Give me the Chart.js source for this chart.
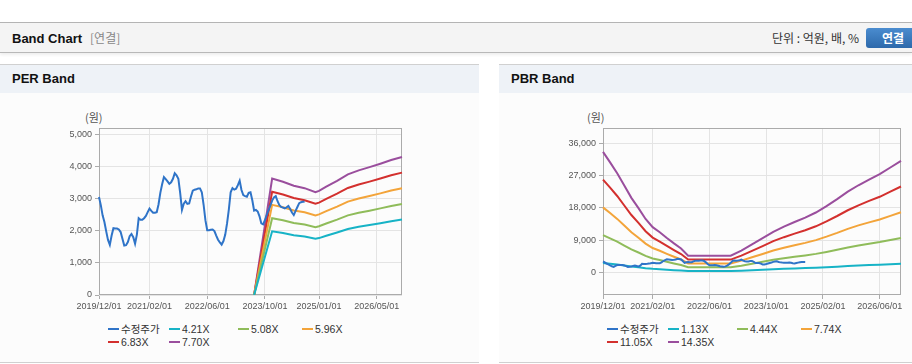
<!DOCTYPE html>
<html>
<head>
<meta charset="utf-8">
<script src="https://cdn.jsdelivr.net/npm/chart.js@4.4.1/dist/chart.umd.min.js"></script>
<style>
body { margin: 0; width: 912px; height: 364px; overflow: hidden; background: #fff; position: relative;
  font-family: "Liberation Sans", "Noto Sans CJK KR", sans-serif; }
.topbar { position: absolute; left: 0; top: 22px; width: 912px; height: 29px; background: #f4f4f4;
  border-top: 1px solid #b4b4b4; border-bottom: 1px solid #b8b8b8; box-shadow: 0 2px 3px rgba(0,0,0,.07); }
.topbar .title { position: absolute; left: 12px; top: 0; line-height: 29px; font-size: 13px; font-weight: bold; color: #111; }
.topbar .sub { font-weight: normal; color: #888; font-size: 12px; margin-left: 8px; font-family: "Noto Sans CJK KR", sans-serif; }
.topbar .unit { position: absolute; right: 53px; top: 0; line-height: 29px; font-size: 12px; color: #333; font-family: "Noto Sans CJK KR", sans-serif; }
.topbar .btn { position: absolute; left: 866px; top: 5px; width: 54px; height: 20px; border-radius: 3px;
  background: linear-gradient(#4a8ccf, #2d69ab); color: #fff; font-weight: bold; font-size: 12px;
  line-height: 20px; text-align: center; font-family: "Noto Sans CJK KR", sans-serif; }
.panel { position: absolute; top: 64px; height: 297px; background: #fcfcfc;
  border-top: 1px solid #d0d0d0; border-bottom: 1px solid #d0d0d0; }
.panel .ph { height: 28px; line-height: 28px; background: #eef2f7; padding-left: 12px;
  font-size: 13px; font-weight: bold; color: #111; }
.panel canvas { position: absolute; left: 0; top: 35px; }
.panel .unitlabel { position: absolute; top: 44px; font-size: 11px; color: #555; font-family: "Noto Sans CJK KR", sans-serif; }
.legend { position: absolute; left: 108px; top: 258px; display: grid; grid-template-columns: 61px 69px 64px 64px;
  font-size: 10.5px; line-height: 13px; color: #333; }
.legend span { white-space: nowrap; }
.legend i { display: inline-block; width: 11px; height: 2px; vertical-align: middle; margin-right: 2px; position: relative; top: -1px; }
</style>
</head>
<body>
<div class="topbar">
  <div class="title">Band Chart<span class="sub">[연결]</span></div>
  <div class="unit">단위 : 억원, 배, %</div>
  <div class="btn">연결</div>
</div>

<div class="panel" style="left:0;width:479px;">
  <div class="ph">PER Band</div>
  <div class="unitlabel" style="left:85px;">(원)</div>
  <canvas id="perChart" width="479" height="215"></canvas>
  <div class="legend" id="perLegend"></div>
</div>

<div class="panel" style="left:499px;width:413px;">
  <div class="ph">PBR Band</div>
  <div class="unitlabel" style="left:88px;">(원)</div>
  <canvas id="pbrChart" width="413" height="215"></canvas>
  <div class="legend" id="pbrLegend"></div>
</div>

<script>
// 반월 단위 날짜 (2019/12/01 ~ 2026/12/01)
const halfMonthLabels = [];
for (let k = 0; k <= 84; k++) {
    const y = 2019 + Math.floor((11 + k) / 12);
    const m = (11 + k) % 12 + 1;
    const ym = y + '/' + String(m).padStart(2, '0');
    halfMonthLabels.push(ym + '/01');
    if (k < 84) halfMonthLabels.push(ym + '/16');
}

const perTickLabels = ['2019/12/01', '2021/02/01', '2022/06/01', '2023/10/01', '2025/01/01', '2026/05/01'];
const pbrTickLabels = ['2019/12/01', '2021/02/01', '2022/06/01', '2023/10/01', '2025/02/01', '2026/06/01'];
const perYTicks = [0, 1000, 2000, 3000, 4000, 5000];
const pbrYTicks = [0, 9000, 18000, 27000, 36000];

// 수정주가 (반월 간격, 2019/12/01 부터)
const priceValues = [
    3050, 2800, 2480, 2270, 1980, 1710, 1560, 1850, 2080, 2070,
    2070, 2040, 1960, 1750, 1540, 1550, 1650, 1830, 1900, 1800,
    1600, 1880, 2390, 2340, 2340, 2390, 2460, 2580, 2690, 2620,
    2560, 2560, 2580, 2820, 3180, 3450, 3670, 3610, 3540, 3460,
    3510, 3620, 3790, 3730, 3620, 3180, 2650, 2840, 2920, 2840,
    2850, 3070, 3250, 3280, 3290, 3320, 3320, 3200, 2810, 2330,
    2020, 2020, 2030, 2040, 1990, 1850, 1720, 1640, 1570, 1680,
    1880, 2230, 2670, 3200, 3330, 3280, 3310, 3420, 3560, 3270,
    3110, 3080, 3060, 3180, 3200, 2950, 2630, 2650, 2600, 2450,
    2230, 2200, 2330, 2490, 2640, 2780, 2940, 3040, 3080, 2920,
    2800, 2740, 2720, 2700, 2730, 2770, 2680, 2570, 2490, 2620,
    2740, 2860, 2890, 2900, 2900
];

// PER 밴드
const perBandDates = ['2023/07/01', '2023/12/01', '2024/03/01', '2024/06/01', '2024/09/01', '2024/12/01', '2025/01/01',
    '2025/03/01', '2025/06/01', '2025/09/01', '2025/12/01', '2026/03/01', '2026/06/01', '2026/09/01', '2026/12/01'];
const per421 = [0, 1983, 1928, 1861, 1819, 1751, 1772, 1844, 1945, 2054, 2122, 2177, 2236, 2299, 2349];
const per508 = [0, 2393, 2327, 2245, 2195, 2113, 2139, 2225, 2347, 2479, 2560, 2626, 2697, 2774, 2835];
const per596 = [0, 2807, 2730, 2634, 2575, 2479, 2509, 2610, 2754, 2908, 3004, 3081, 3165, 3254, 3326];
const per683 = [0, 3217, 3128, 3019, 2951, 2841, 2875, 2992, 3155, 3333, 3442, 3531, 3627, 3729, 3811];
const per770 = [0, 3627, 3527, 3403, 3326, 3203, 3242, 3373, 3557, 3758, 3881, 3981, 4089, 4204, 4297];

// PBR 밴드
const pbrBandDates = ['2019/12/01', '2020/02/01', '2020/04/01', '2020/06/01', '2020/08/01', '2020/10/01', '2020/12/01',
    '2021/02/01', '2021/04/01', '2021/06/01', '2021/08/01', '2021/10/01', '2021/12/01', '2022/12/01', '2023/03/01',
    '2023/06/01', '2023/09/01', '2023/12/01', '2024/03/01', '2024/06/01', '2024/09/01', '2024/12/01', '2025/03/01',
    '2025/06/01', '2025/09/01', '2025/12/01', '2026/03/01', '2026/06/01', '2026/09/01', '2026/12/01'];
const pbr113 = [2650, 2418, 2181, 1910, 1639, 1413, 1175, 994, 881, 757, 638, 525, 366, 366, 480,
    616, 751, 893, 1006, 1107, 1203, 1316, 1458, 1610, 1774, 1915, 2040, 2158, 2305, 2452];
const pbr444 = [10412, 9502, 8569, 7504, 6438, 5550, 4618, 3907, 3463, 2975, 2509, 2065, 1439, 1439, 1887,
    2420, 2953, 3508, 3952, 4351, 4729, 5173, 5728, 6327, 6971, 7526, 8014, 8480, 9058, 9635];
const pbr774 = [18150, 16564, 14938, 13081, 11223, 9675, 8050, 6811, 6037, 5186, 4373, 3599, 2508, 2508, 3290,
    4218, 5147, 6115, 6889, 7585, 8243, 9017, 9985, 11030, 12152, 13119, 13971, 14783, 15790, 16796];
const pbr1105 = [25912, 23647, 21327, 18675, 16023, 13813, 11492, 9724, 8619, 7404, 6243, 5138, 3580, 3580, 4696,
    6022, 7348, 8730, 9835, 10829, 11768, 12873, 14255, 15746, 17349, 18730, 19945, 21106, 22542, 23979];
const pbr1435 = [33651, 30709, 27696, 24252, 20808, 17938, 14924, 12628, 11193, 9615, 8108, 6673, 4649, 4649, 6099,
    7821, 9543, 11337, 12772, 14063, 15283, 16718, 18512, 20449, 22530, 24323, 25902, 27409, 29274, 31140];

const colors = ['#2f74c8', '#17b3c6', '#8fbc5a', '#f3a43a', '#d3302e', '#9a4e9d'];

Chart.defaults.font.family = '"Liberation Sans", "Noto Sans CJK KR", sans-serif';

const toPoints = (dates, vals) => dates.map((d, i) => ({ x: d, y: vals[i] }));

const lineSet = (label, data, color) => ({
    label: label,
    data: data,
    borderColor: color,
    backgroundColor: color,
    borderWidth: 2,
    pointRadius: 0,
    tension: 0,
    spanGaps: true,
    fill: false
});

const frame = {
    id: 'frame',
    beforeDatasetsDraw(chart) {
        const a = chart.chartArea;
        const c = chart.ctx;
        c.save();
        c.strokeStyle = '#ababab';
        c.lineWidth = 1;
        c.strokeRect(Math.round(a.left) + 0.5, Math.round(a.top) + 0.5,
            Math.round(a.right - a.left) - 1, Math.round(a.bottom - a.top) - 1);
        c.restore();
    }
};

const makeChart = (id, datasets, tickLabels, yTicks, yMin, yMax, axisWidth, padRight) => {
    return new Chart(document.getElementById(id).getContext('2d'), {
        type: 'line',
        data: { labels: halfMonthLabels, datasets: datasets },
        options: {
            responsive: false,
            animation: false,
            devicePixelRatio: 1,
            layout: { padding: { top: 28, right: padRight, left: 0, bottom: 0 } },
            plugins: { legend: { display: false }, tooltip: { enabled: false } },
            scales: {
                x: {
                    offset: false,
                    grid: { color: '#e4e4e4', tickColor: '#ababab', tickLength: 4 },
                    border: { display: false },
                    ticks: { autoSkip: false, maxRotation: 0, font: { size: 9 }, color: '#555', padding: 2 },
                    afterBuildTicks: s => { s.ticks = s.ticks.filter(t => tickLabels.includes(halfMonthLabels[t.value])); },
                    afterFit: s => { s.height = 20; }
                },
                y: {
                    min: yMin,
                    max: yMax,
                    grid: { color: '#e4e4e4', tickColor: '#ababab', tickLength: 4 },
                    border: { display: false },
                    ticks: {
                        font: { size: 9 }, color: '#555', padding: 3,
                        callback: v => v.toLocaleString('en-US')
                    },
                    afterBuildTicks: s => { s.ticks = yTicks.map(v => ({ value: v })); },
                    afterFit: s => { s.width = axisWidth; }
                }
            }
        },
        plugins: [frame]
    });
};

const perChart = makeChart('perChart', [
    lineSet('수정주가', priceValues, colors[0]),
    lineSet('4.21X', toPoints(perBandDates, per421), colors[1]),
    lineSet('5.08X', toPoints(perBandDates, per508), colors[2]),
    lineSet('5.96X', toPoints(perBandDates, per596), colors[3]),
    lineSet('6.83X', toPoints(perBandDates, per683), colors[4]),
    lineSet('7.70X', toPoints(perBandDates, per770), colors[5])
], perTickLabels, perYTicks, 0, 5200, 99, 77);

const pbrChart = makeChart('pbrChart', [
    lineSet('수정주가', priceValues, colors[0]),
    lineSet('1.13X', toPoints(pbrBandDates, pbr113), colors[1]),
    lineSet('4.44X', toPoints(pbrBandDates, pbr444), colors[2]),
    lineSet('7.74X', toPoints(pbrBandDates, pbr774), colors[3]),
    lineSet('11.05X', toPoints(pbrBandDates, pbr1105), colors[4]),
    lineSet('14.35X', toPoints(pbrBandDates, pbr1435), colors[5])
], pbrTickLabels, pbrYTicks, -6300, 40300, 104, 11);

const buildLegend = (el, chart) => {
    el.innerHTML = chart.data.datasets.map(ds =>
        `<span><i style="background:${ds.borderColor}"></i>${ds.label}</span>`).join('');
};
buildLegend(document.getElementById('perLegend'), perChart);
buildLegend(document.getElementById('pbrLegend'), pbrChart);
</script>
</body>
</html>
